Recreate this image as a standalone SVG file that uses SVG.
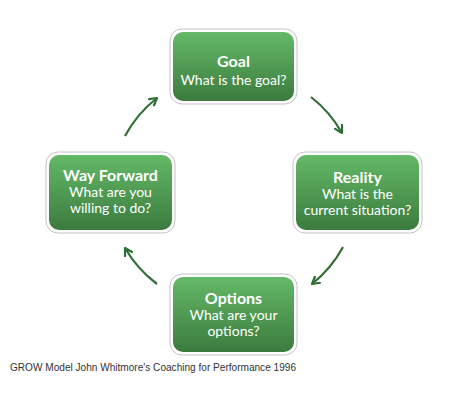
<svg xmlns="http://www.w3.org/2000/svg" width="471" height="404" viewBox="0 0 471 404">
<defs>
<linearGradient id="g" x1="0" y1="0" x2="0" y2="1">
<stop offset="0" stop-color="#64b967"/>
<stop offset="1" stop-color="#3b7b3e"/>
</linearGradient>
<marker id="ah" viewBox="0 0 10 10" refX="8" refY="5" markerWidth="10" markerHeight="10" markerUnits="userSpaceOnUse" orient="auto">
<path d="M1,1 L8,5 L1,9" fill="none" stroke="#2f6e35" stroke-width="2.2" stroke-linecap="round" stroke-linejoin="round"/>
</marker>
</defs>
<style>
.frame{fill:#fff;stroke:#c3c3c3;stroke-width:1}
.box{fill:url(#g)}
.t{font-family:Lato,"Open Sans",sans-serif;font-size:16px;font-weight:bold;fill:#fff;text-anchor:middle}
.s{font-family:Lato,"Open Sans",sans-serif;font-size:14px;fill:#fff;text-anchor:middle}
.c{fill:none;stroke:#2f6e35;stroke-width:2.2;marker-end:url(#ah)}
.cap{font-family:"Liberation Sans",Arial,sans-serif;font-size:10.2px;fill:#333}
</style>
<rect width="471" height="404" fill="#fff"/>
<g id="connectors">
<path class="c" d="M311,97 A121,121 0 0 1 342,133"/>
<path class="c" d="M343,247 A121,121 0 0 1 312,284"/>
<path class="c" d="M157,284 A121,121 0 0 1 125,248"/>
<path class="c" d="M125,136 A121,121 0 0 1 157,98"/>
</g>
<g id="goal">
<rect class="frame" x="170" y="29" width="127" height="75" rx="12"/>
<rect class="box" x="173" y="32" width="121" height="69" rx="10"/>
<text class="t" x="233.5" y="67">Goal</text>
<text class="s" x="233.5" y="85">What is the goal?</text>
</g>
<g id="reality">
<rect class="frame" x="293" y="152" width="129" height="81" rx="12"/>
<rect class="box" x="296" y="155" width="123" height="75" rx="10"/>
<text class="t" x="357.5" y="183">Reality</text>
<text class="s" x="357.5" y="199">What is the</text>
<text class="s" x="357.5" y="215">current situation?</text>
</g>
<g id="way-forward">
<rect class="frame" x="46" y="152" width="129" height="81" rx="12"/>
<rect class="box" x="49" y="155" width="123" height="75" rx="10"/>
<text class="t" x="110.5" y="181">Way Forward</text>
<text class="s" x="110.5" y="197">What are you</text>
<text class="s" x="110.5" y="213">willing to do?</text>
</g>
<g id="options">
<rect class="frame" x="170" y="274" width="127" height="81" rx="12"/>
<rect class="box" x="173" y="277" width="121" height="75" rx="10"/>
<text class="t" x="233.5" y="304">Options</text>
<text class="s" x="233.5" y="320">What are your</text>
<text class="s" x="233.5" y="336">options?</text>
</g>
<text class="cap" x="10" y="371" textLength="286" lengthAdjust="spacingAndGlyphs">GROW Model John Whitmore's Coaching for Performance 1996</text>
</svg>
